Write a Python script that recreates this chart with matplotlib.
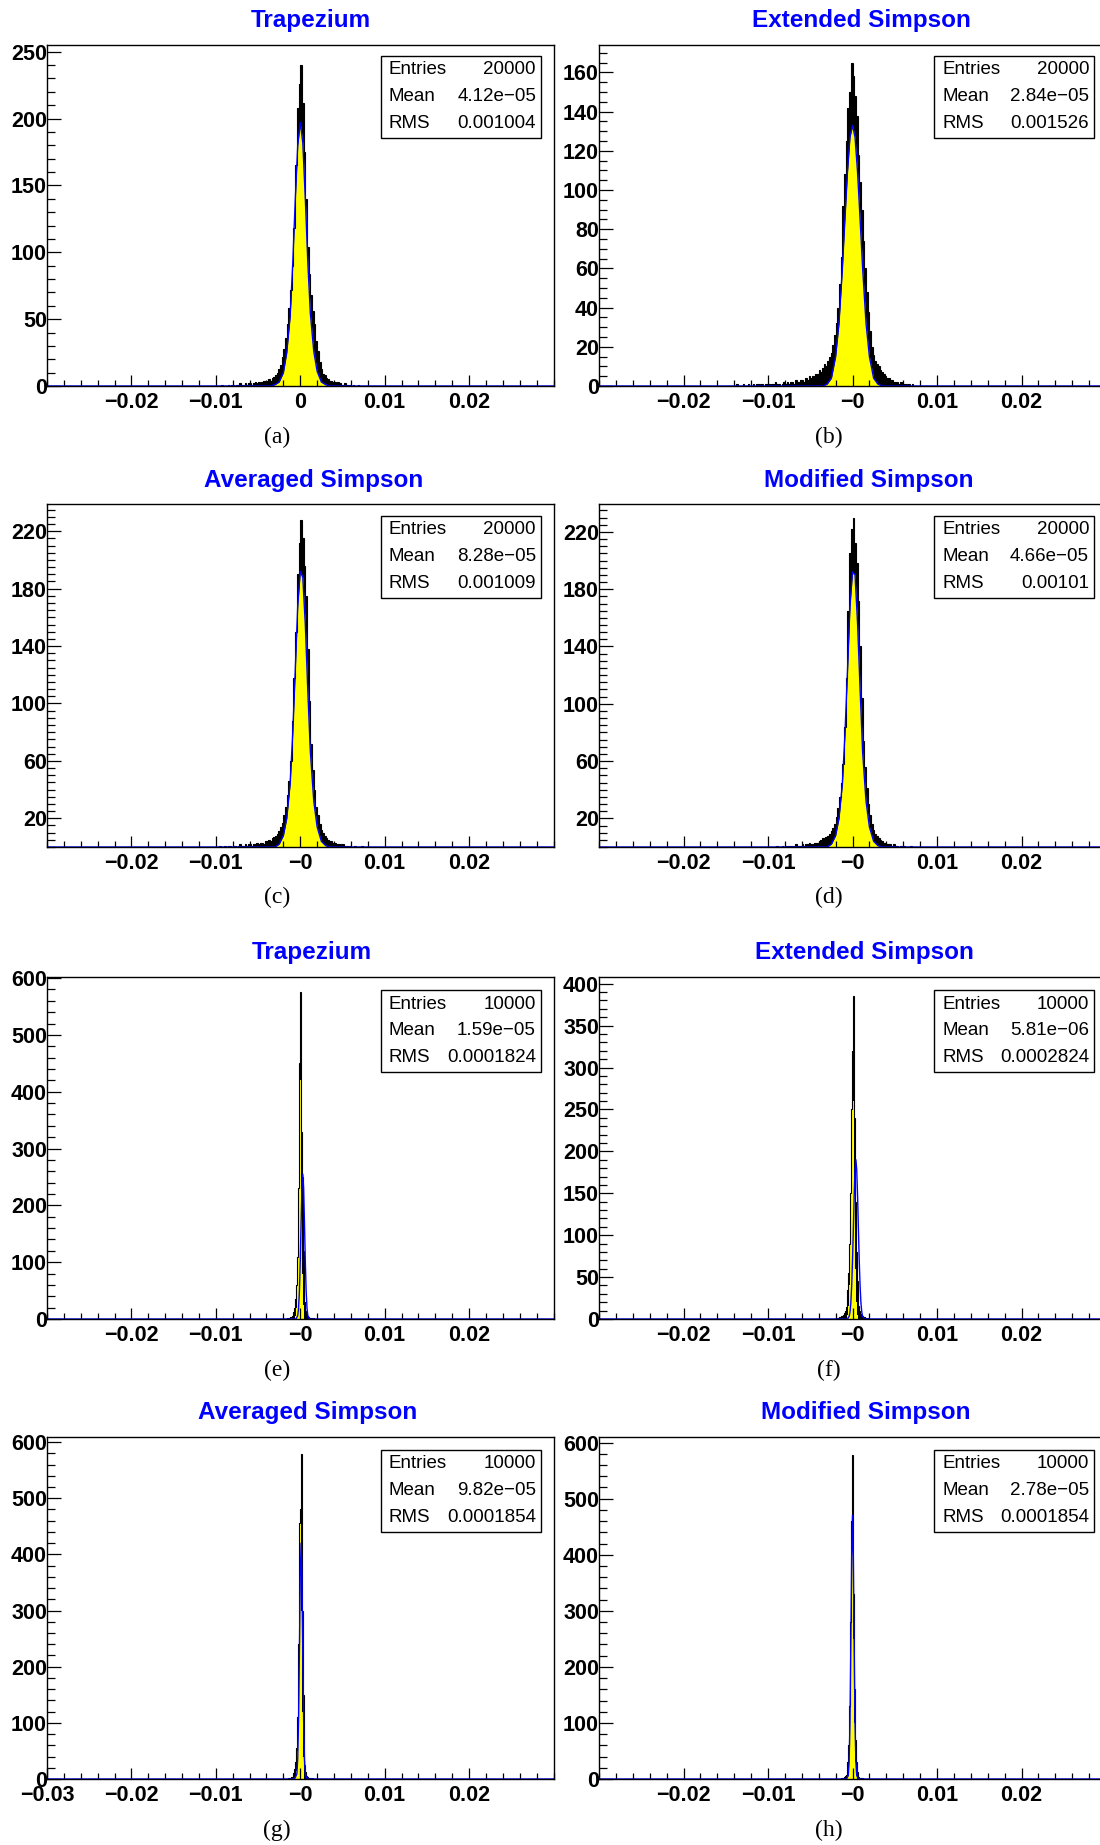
import numpy as np
import matplotlib.pyplot as plt
from matplotlib.patches import Rectangle
from matplotlib.ticker import FixedLocator, MultipleLocator

plt.rcParams['font.family'] = ['Liberation Sans', 'DejaVu Sans']

W, H = 1100, 1845

titles = ["Trapezium", "Extended Simpson", "Averaged Simpson", "Modified Simpson",
          "Trapezium", "Extended Simpson", "Averaged Simpson", "Modified Simpson"]
letters = ["(a)", "(b)", "(c)", "(d)", "(e)", "(f)", "(g)", "(h)"]
entries = ["20000", "20000", "20000", "20000", "10000", "10000", "10000", "10000"]
means = ["4.12e\u221205", "2.84e\u221205", "8.28e\u221205", "4.66e\u221205",
         "1.59e\u221205", "5.81e\u221206", "9.82e\u221205", "2.78e\u221205"]
rms = ["0.001004", "0.001526", "0.001009", "0.00101",
       "0.0001824", "0.0002824", "0.0001854", "0.0001854"]

# histograms: first bin edge, bin width, bin contents (black)
hist_start = [-0.0100, -0.0140, -0.0100, -0.0100, -0.0020, -0.0020, -0.0020, -0.0020]
hist_width = [0.0002, 0.0002, 0.0002, 0.0002, 0.0001, 0.0001, 0.0001, 0.0001]

h_a = [0, 0, 0, 1, 0, 0, 0, 1, 0, 1,
       1, 0, 1, 1, 2, 1, 1, 2, 1, 2,
       2, 1, 2, 3, 2, 3, 2, 3, 4, 3,
       4, 5, 4, 6, 7, 8, 10, 13, 16, 22,
       28, 36, 46, 58, 72, 90, 118, 165, 208, 226,
       240, 212, 175, 140, 104, 84, 68, 56, 46, 34,
       26, 18, 13, 9, 8, 6, 5, 4, 4, 3,
       3, 2, 3, 2, 1, 1, 2, 1, 0, 1,
       0, 1, 0, 0, 1, 0, 0, 0, 0, 0]
h_b = [0, 1, 0, 0, 0, 1, 0, 0, 1, 0,
       0, 1, 0, 1, 1, 0, 1, 0, 1, 1,
       1, 0, 1, 1, 2, 1, 1, 0, 1, 2,
       1, 2, 1, 2, 2, 1, 3, 2, 2, 3,
       3, 2, 4, 3, 5, 4, 5, 4, 6, 6,
       8, 7, 9, 11, 10, 13, 15, 17, 21, 26,
       32, 40, 52, 66, 92, 108, 125, 142, 150, 165,
       158, 148, 138, 118, 104, 90, 74, 60, 48, 38,
       28, 20, 16, 13, 11, 10, 8, 7, 6, 5,
       4, 4, 3, 3, 2, 2, 2, 1, 2, 1,
       1, 1, 0, 1, 0, 1, 0, 0, 0, 0]
h_c = [0, 0, 1, 0, 0, 1, 0, 1, 1, 0,
       1, 1, 0, 1, 2, 1, 1, 2, 1, 2,
       2, 1, 2, 2, 3, 2, 3, 3, 2, 4,
       4, 5, 4, 6, 7, 8, 9, 11, 14, 17,
       22, 28, 36, 46, 60, 88, 118, 150, 190, 212,
       228, 215, 196, 175, 138, 102, 72, 54, 40, 28,
       22, 16, 12, 10, 8, 6, 5, 4, 4, 3,
       3, 2, 2, 2, 1, 2, 1, 1, 0, 1,
       0, 0, 1, 0, 0, 0, 1, 0, 0, 0]
h_d = [0, 0, 0, 0, 0, 1, 0, 0, 1, 0,
       1, 0, 1, 1, 0, 1, 2, 1, 1, 1,
       2, 1, 2, 2, 3, 2, 2, 3, 3, 3,
       4, 5, 6, 5, 7, 8, 9, 11, 13, 16,
       21, 27, 35, 45, 58, 84, 118, 165, 205, 222,
       230, 212, 198, 172, 140, 104, 74, 56, 41, 30,
       22, 16, 12, 9, 8, 6, 5, 4, 3, 3,
       2, 2, 2, 1, 2, 1, 1, 0, 1, 0,
       1, 0, 0, 0, 1, 0, 0, 0, 0, 0]
h_e = [0, 0, 0, 0, 1, 0, 1, 2, 3, 4,
       6, 8, 12, 20, 35, 60, 110, 230, 420, 450,
       575, 330, 250, 120, 60, 30, 14, 8, 5, 3,
       2, 2, 1, 1, 0, 1, 0, 0, 0, 0]
h_f = [0, 1, 0, 1, 2, 1, 3, 2, 4, 5,
       7, 9, 14, 22, 35, 55, 90, 150, 250, 320,
       300, 385, 240, 140, 80, 45, 25, 15, 9, 6,
       5, 4, 3, 2, 2, 1, 1, 0, 1, 0]
h_g = [0, 0, 0, 0, 0, 1, 0, 1, 2, 3,
       4, 6, 10, 18, 30, 55, 110, 240, 400, 455,
       480, 578, 300, 150, 60, 25, 12, 6, 4, 2,
       2, 1, 1, 0, 1, 0, 0, 0, 0, 0]
h_h = [0, 0, 0, 0, 0, 0, 1, 0, 1, 2,
       3, 5, 8, 15, 30, 60, 130, 280, 460, 578,
       492, 330, 160, 70, 30, 12, 6, 3, 2, 1,
       1, 0, 1, 0, 0, 0, 0, 0, 0, 0]
hists = [h_a, h_b, h_c, h_d, h_e, h_f, h_g, h_h]

# yellow area of the narrow peaks (same bins as the black histogram)
y_e = [0, 0, 0, 0, 0, 0, 0, 0, 0, 0,
       0, 0, 0, 0, 5, 20, 60, 150, 300, 450,
       420, 200, 80, 25, 5, 0, 0, 0, 0, 0,
       0, 0, 0, 0, 0, 0, 0, 0, 0, 0]
y_f = [0, 0, 0, 0, 0, 0, 0, 0, 0, 0,
       0, 0, 0, 0, 5, 15, 40, 90, 180, 300,
       320, 260, 150, 60, 20, 5, 0, 0, 0, 0,
       0, 0, 0, 0, 0, 0, 0, 0, 0, 0]
y_g = [0, 0, 0, 0, 0, 0, 0, 0, 0, 0,
       0, 0, 0, 0, 5, 15, 50, 130, 280, 420,
       455, 300, 120, 40, 10, 0, 0, 0, 0, 0,
       0, 0, 0, 0, 0, 0, 0, 0, 0, 0]
y_h = [0, 0, 0, 0, 0, 0, 0, 0, 0, 0,
       0, 0, 0, 0, 5, 20, 60, 150, 320, 492,
       460, 250, 100, 30, 8, 0, 0, 0, 0, 0,
       0, 0, 0, 0, 0, 0, 0, 0, 0, 0]
yellows = [None, None, None, None, y_e, y_f, y_g, y_h]

# gaussian fits (blue)
fit_x_top = [-0.03, -0.0035, -0.003, -0.0025, -0.002, -0.0016, -0.0012, -0.0009, -0.0006, -0.0003,
             0.0, 0.0003, 0.0006, 0.0009, 0.0012, 0.0016, 0.002, 0.0025, 0.003, 0.0035, 0.03]
fit_a = [0, 0, 1, 3, 10, 25, 52, 90, 138, 180, 197, 182, 140, 92, 54, 26, 11, 3, 1, 0, 0]
fit_c = [0, 0, 0, 2, 8, 20, 44, 78, 122, 168, 192, 188, 155, 108, 66, 32, 14, 4, 1, 0, 0]
fit_d = [0, 0, 0, 2, 8, 20, 44, 78, 122, 168, 192, 190, 156, 110, 66, 32, 14, 4, 1, 0, 0]
fit_x_b = [-0.03, -0.004, -0.0035, -0.003, -0.0025, -0.002, -0.0016, -0.0012, -0.0009, -0.0006, -0.0003,
           0.0, 0.0003, 0.0006, 0.0009, 0.0012, 0.0016, 0.002, 0.0025, 0.003, 0.0035, 0.004, 0.03]
fit_b = [0, 0, 0, 1, 4, 15, 32, 60, 85, 109, 127, 133, 127, 109, 85, 60, 32, 15, 4, 1, 0, 0, 0]
fit_x_e = [-0.03, -0.0005, -0.0003, -0.0002, -0.0001, 0.0, 0.0001, 0.0002, 0.0003, 0.0004,
           0.0005, 0.0006, 0.0007, 0.0008, 0.0009, 0.0011, 0.03]
fit_e = [0, 0, 6, 19, 49, 101, 169, 230, 255, 230, 169, 101, 49, 19, 6, 0, 0]
fit_x_f = [-0.03, -0.0006, -0.0004, -0.0003, -0.0002, -0.0001, 0.0, 0.0001, 0.0002, 0.0003, 0.0004,
           0.0005, 0.0006, 0.0007, 0.0008, 0.0009, 0.001, 0.0011, 0.0012, 0.0014, 0.03]
fit_f = [0, 0, 3, 8, 19, 39, 69, 107, 147, 178, 190, 178, 147, 107, 69, 39, 19, 8, 3, 0, 0]
fit_x_g = [-0.03, -0.0008, -0.0006, -0.0004, -0.0003, -0.0002, -0.0001, 0.0, 0.0001, 0.0002, 0.0003,
           0.0004, 0.0005, 0.0006, 0.0008, 0.03]
fit_g = [0, 0, 2, 9, 36, 105, 227, 360, 420, 360, 227, 105, 36, 9, 0, 0]
fit_x_h = [-0.03, -0.0007, -0.0005, -0.0004, -0.0003, -0.0002, -0.0001, 0.0, 0.0001, 0.0002,
           0.0003, 0.0004, 0.0005, 0.0007, 0.03]
fit_h = [0, 0, 6, 30, 99, 236, 395, 470, 395, 236, 99, 30, 6, 0, 0]
fits_x = [fit_x_top, fit_x_b, fit_x_top, fit_x_top, fit_x_e, fit_x_f, fit_x_g, fit_x_h]
fits_y = [fit_a, fit_b, fit_c, fit_d, fit_e, fit_f, fit_g, fit_h]

# axes
y_lims = [(0, 255), (0, 174), (0, 239), (0, 239.5), (0, 602), (0, 408), (0, 609), (0, 610)]
y_ticks = [[0, 50, 100, 150, 200, 250],
           [0, 20, 40, 60, 80, 100, 120, 140, 160],
           [20, 60, 100, 140, 180, 220],
           [20, 60, 100, 140, 180, 220],
           [0, 100, 200, 300, 400, 500, 600],
           [0, 50, 100, 150, 200, 250, 300, 350, 400],
           [0, 100, 200, 300, 400, 500, 600],
           [0, 100, 200, 300, 400, 500, 600]]
y_minor = [10, 5, 5, 5, 20, 10, 20, 20]
x_ticks = [-0.02, -0.01, 0.0, 0.01, 0.02]
x_labels_a = ["\u22120.02", "\u22120.01", "0", "0.01", "0.02"]
x_labels = ["\u22120.02", "\u22120.01", "\u22120", "0.01", "0.02"]
x_ticks_g = [-0.03, -0.02, -0.01, 0.0, 0.01, 0.02]
x_labels_g = ["\u22120.03", "\u22120.02", "\u22120.01", "\u22120", "0.01", "0.02"]

# layout in pixels
row_top = [45, 504, 977, 1437]
row_bot = [386, 847, 1319, 1779]
col_left = [47, 599]
col_right = [553.5, 1106]
title_y = [20, 480, 953, 1413]
title_x = [311, 861, 314, 869, 312, 864, 308, 866]
letter_x = [277, 829]
letter_y = [437, 897, 1370, 1830]
box_left = [381, 934]
box_top = [56, 516, 990, 1450]
box_w, box_h = 160, 82


def fx(px):
    return px / W


def fy(py):
    return 1 - py / H


fig = plt.figure(figsize=(W / 100, H / 100), dpi=100)

for i in range(8):
    r, c = i // 2, i % 2
    ax = fig.add_axes([fx(col_left[c]), fy(row_bot[r]),
                       (col_right[c] - col_left[c]) / W, (row_bot[r] - row_top[r]) / H])

    counts = np.array(hists[i])
    edges = hist_start[i] + hist_width[i] * np.arange(len(counts) + 1)
    # dense bins render as black, the yellow is the smooth part underneath
    ax.stairs(counts, edges, fill=True, color="black", zorder=1)
    if yellows[i] is None:
        ax.fill_between(fits_x[i], fits_y[i], color="#ffff00", lw=0, zorder=1.5)
    else:
        ax.stairs(yellows[i], edges, fill=True, color="#ffff00", zorder=1.5)
    ax.stairs(counts, edges, color="black", lw=0.8, zorder=2)
    ax.plot(fits_x[i], fits_y[i], color="#0000ff", lw=1.0, zorder=2.2)

    ax.set_xlim(-0.03, 0.03)
    ax.set_ylim(*y_lims[i])

    if i == 6:
        ax.xaxis.set_major_locator(FixedLocator(x_ticks_g))
        ax.set_xticklabels(x_labels_g)
    else:
        ax.xaxis.set_major_locator(FixedLocator(x_ticks))
        ax.set_xticklabels(x_labels_a if i == 0 else x_labels)
    ax.xaxis.set_minor_locator(MultipleLocator(0.002))
    ax.yaxis.set_major_locator(FixedLocator(y_ticks[i]))
    ax.set_yticklabels([str(v) for v in y_ticks[i]])
    ax.yaxis.set_minor_locator(MultipleLocator(y_minor[i]))

    ax.tick_params(axis="x", which="major", direction="in", length=8, width=0.9, pad=4,
                   labelsize=15.5)
    ax.tick_params(axis="x", which="minor", direction="in", length=4.3, width=0.9)
    ax.tick_params(axis="y", which="major", direction="in", length=10, width=0.9, pad=0,
                   labelsize=15.5)
    ax.tick_params(axis="y", which="minor", direction="in", length=5.8, width=0.9)
    for lab in ax.get_xticklabels() + ax.get_yticklabels():
        lab.set_fontweight("bold")
    for s in ax.spines.values():
        s.set_linewidth(1.0)

    fig.text(fx(title_x[i]), fy(title_y[r]), titles[i], ha="center", va="center",
             fontsize=17.5, fontweight="bold", color="#0000ff")
    fig.text(fx(letter_x[c]), fy(letter_y[r]), letters[i], ha="center", va="center",
             fontsize=17, family="Liberation Serif")

    # stats box
    bl, bt = box_left[c], box_top[r]
    fig.add_artist(Rectangle((fx(bl), fy(bt + box_h)), box_w / W, box_h / H,
                             transform=fig.transFigure, facecolor="white",
                             edgecolor="black", lw=1.0, zorder=5))
    rows = [("Entries", entries[i]), ("Mean", means[i]), ("RMS", rms[i])]
    for k, (name, val) in enumerate(rows):
        yy = fy(bt + 14 + 26.5 * k)
        fig.text(fx(bl + 8), yy, name, ha="left", va="center", fontsize=13.5, zorder=6)
        fig.text(fx(bl + box_w - 5), yy, val, ha="right", va="center", fontsize=13.5, zorder=6)

fig.savefig("out.png", dpi=100)
